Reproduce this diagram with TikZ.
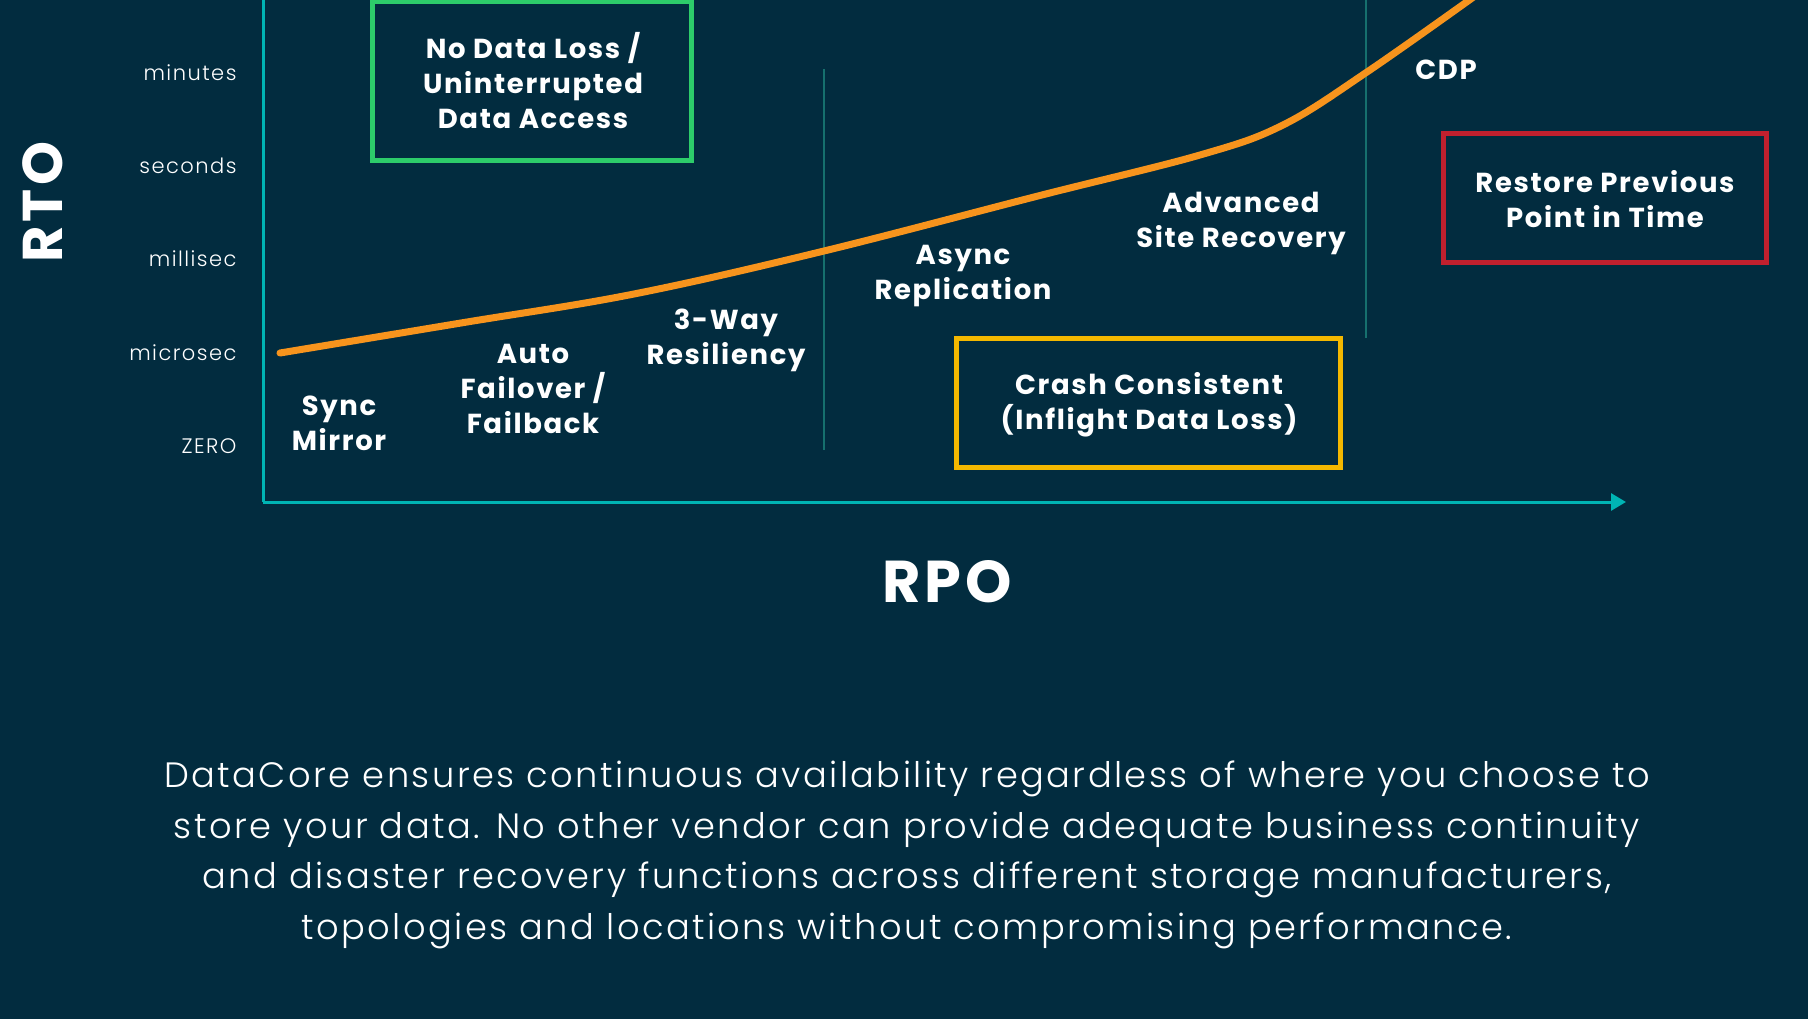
\documentclass[tikz,border=0pt]{standalone}
\usepackage{fontspec}
\setmainfont{Poppins}[LetterSpace=6]
\newfontfamily\lightfont{Poppins Light}[LetterSpace=7]
\usetikzlibrary{arrows.meta}
\definecolor{bgnavy}{HTML}{022C3F}
\definecolor{axisteal}{HTML}{00B4B4}
\definecolor{gridteal}{HTML}{16706E}
\definecolor{curveorange}{HTML}{F7941D}
\definecolor{boxgreen}{HTML}{2DCC6A}
\definecolor{boxred}{HTML}{C1202E}
\definecolor{boxyellow}{HTML}{F4B800}
\tikzset{
  tick/.style={anchor=east,text=white,font=\lightfont\fontsize{21}{24}\selectfont},
  tech/.style={align=center,text=white,font=\bfseries\fontsize{27.5}{35}\selectfont}
}
\begin{document}
\begin{tikzpicture}[x=1pt,y=-1pt]
\useasboundingbox[fill=bgnavy] (0,0) rectangle (1808,1019);

% axes
\coordinate (origin) at (263,502);
\coordinate (ytop) at (263,0);
\coordinate (xend) at (1626,502);
\draw[axisteal,line width=3pt] (ytop) -- (origin);
\draw[axisteal,line width=3pt,-{Triangle[length=15pt,width=17pt]}] (origin) -- (xend);

% separators
\coordinate (sepa) at (824,69);
\coordinate (sepb) at (824,450);
\coordinate (sepc) at (1366,0);
\coordinate (sepd) at (1366,338);
\draw[gridteal,line width=1.5pt] (sepa) -- (sepb);
\draw[gridteal,line width=1.5pt] (sepc) -- (sepd);

% scale
\node[tick] (minutes) at (240,73) {minutes};
\node[tick] (seconds) at (240,166) {seconds};
\node[tick] (millisec) at (240,259) {millisec};
\node[tick] (microsec) at (240,353) {microsec};
\node[tick] (zero) at (240,446) {ZERO};

\node[rotate=90,text=white,font=\bfseries\fontsize{56}{60}\selectfont] (rto) at (43,202) {RTO};
\node[text=white,font=\bfseries\fontsize{59}{64}\selectfont] (rpo) at (947,582) {RPO};

% curve
\draw[curveorange,line width=7pt,line cap=round] plot[smooth,tension=0.6] coordinates
  {(280,353) (461,323) (634,294) (824,251) (1038,196) (1200,155) (1283,125) (1367,72) (1475,-4)};

% boxes
\draw[boxgreen,line width=5pt] (372,2) rectangle (691,161);
\node[tech] (noloss) at (533,81) {No Data Loss /\\Uninterrupted\\Data Access};
\draw[boxred,line width=5pt] (1443,134) rectangle (1766,263);
\node[tech] (restore) at (1605,199) {Restore Previous\\Point in Time};
\draw[boxyellow,line width=5pt] (956,338) rectangle (1340,467);
\node[tech] (crash) at (1149,405) {Crash Consistent\\(Inflight Data Loss)};

% technologies
\node[tech] (sync) at (339,423) {Sync\\Mirror};
\node[tech] (auto) at (533,389) {Auto\\Failover /\\Failback};
\node[tech] (threeway) at (726,340) {3-Way\\Resiliency};
\node[tech] (async) at (963,276) {Async\\Replication};
\node[tech] (asr) at (1241,223) {Advanced\\Site Recovery};
\node[tech] (cdp) at (1446,70) {CDP};

% note
\node[align=center,text=white,font=\lightfont\fontsize{35.2}{50.7}\selectfont] (note) at (907,855)
  {DataCore ensures continuous availability regardless of where you choose to\\
   store your data. No other vendor can provide adequate business continuity\\
   and disaster recovery functions across different storage manufacturers,\\
   topologies and locations without compromising performance.};
\end{tikzpicture}
\end{document}
